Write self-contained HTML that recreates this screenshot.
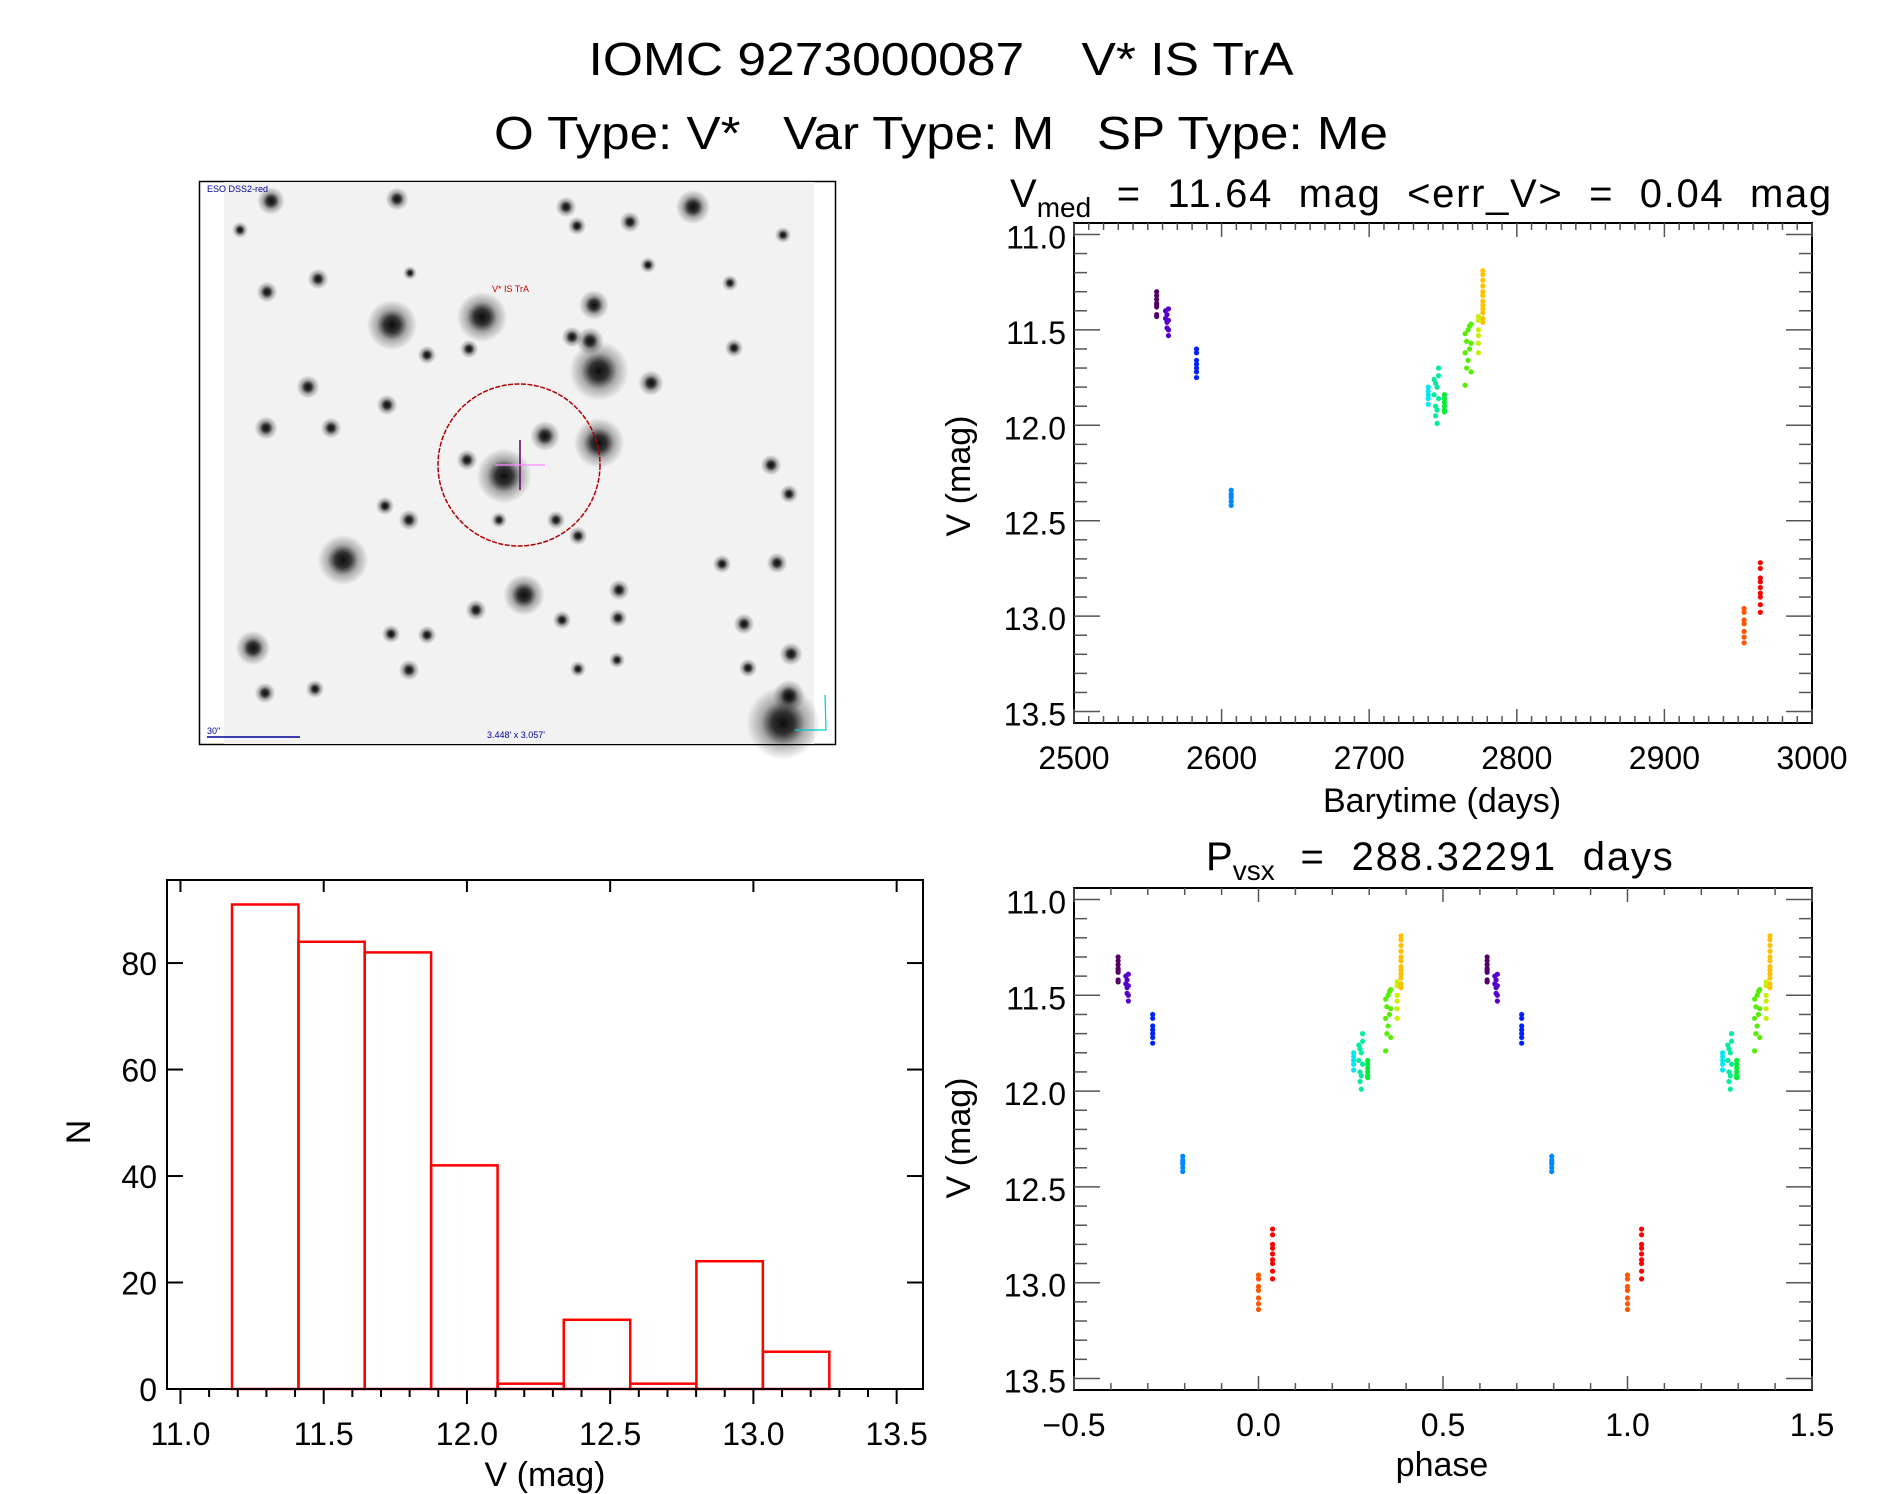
<!DOCTYPE html>
<html><head><meta charset="utf-8"><style>
html,body{margin:0;padding:0;background:#fff}
svg{display:block}
text{font-family:"Liberation Sans",sans-serif;fill:#000}
</style></head><body>
<svg id="fig" width="1889" height="1494" viewBox="0 0 1889 1494" xmlns="http://www.w3.org/2000/svg">
<defs>
<radialGradient id="star"><stop offset="0" stop-color="#000" stop-opacity="0.95"/><stop offset="0.3" stop-color="#000" stop-opacity="0.8"/><stop offset="0.6" stop-color="#000" stop-opacity="0.3"/><stop offset="1" stop-color="#000" stop-opacity="0"/></radialGradient>
</defs>
<text x="941" y="75" font-size="46" text-anchor="middle" textLength="705" lengthAdjust="spacingAndGlyphs" xml:space="preserve">IOMC 9273000087    V* IS TrA</text>
<text x="941" y="149" font-size="46" text-anchor="middle" textLength="894" lengthAdjust="spacingAndGlyphs" xml:space="preserve">O Type: V*   Var Type: M   SP Type: Me</text>
<g id="img">
<rect x="199.5" y="181.5" width="636" height="563" fill="#fff" stroke="#000" stroke-width="1.5"/>
<rect x="224" y="182" width="590" height="562" fill="#f2f2f2"/>
<g id="stars"></g>
<circle cx="519" cy="465" r="81" fill="none" stroke="#b00000" stroke-width="1.5" stroke-dasharray="5,1.5"/>
<line x1="520" y1="440" x2="520" y2="490" stroke="#660066" stroke-width="1.5"/>
<line x1="495" y1="465" x2="545" y2="465" stroke="#ff88ff" stroke-width="1.2"/>
<text x="492" y="292" font-size="9" style="fill:#cc0000">V* IS TrA</text>
<text x="207" y="192" font-size="9" style="fill:#000099">ESO DSS2-red</text>
<line x1="207" y1="737" x2="300" y2="737" stroke="#000099" stroke-width="1.5"/>
<text x="207" y="734" font-size="9" style="fill:#000099">30"</text>
<text x="487" y="738" font-size="9" style="fill:#000099">3.448' x 3.057'</text>
<path d="M825 695 L826 730 L795 730" fill="none" stroke="#00cccc" stroke-width="1.2"/>
</g>
<g id="lc"></g>
<g id="ph"></g>
<g id="hist"></g>
</svg>
<script>
const NS='http://www.w3.org/2000/svg';
// ---- data ----
const clusterColors=['#550066','#5500cc','#0022ff','#0088ff','#00e8f0','#00ee99','#00ee33','#55ee00','#c8f000','#ffc000','#ff5500','#ff0000'];
const obsTimes=[
2556,2556,2556,2556,2556,2556,2556,2556,
2562,2562,2563,2563,2563,2564,2564,2564,2564,
2583,2583,2583,2583,2583,2583,2583,
2606.5,2606.5,2606.5,2606.5,2606.5,2606.5,
2740,2740,2740,2740,2740,
2744,2744,2745,2745,2745,2746,2746,2746,2747,2747,2747,
2751,2751,2751,2751,2751,2751,
2765,2765,2765,2766,2766,2767,2767,2768,2768,2769,2769,2769,
2774,2774,2774,2774,2774,2774,
2777,2777,2777,2777,2777,2777,2777,2777,2777,2777,2777,2777,
2954,2954,2954,2954,2954,2954,2954,
2965,2965,2965,2965,2965,2965,2965,2965,2965];
const obsMags=[
11.30,11.32,11.34,11.36,11.37,11.38,11.42,11.43,
11.40,11.44,11.42,11.46,11.49,11.39,11.45,11.50,11.53,
11.60,11.62,11.66,11.68,11.70,11.72,11.75,
12.34,12.36,12.37,12.38,12.40,12.42,
11.80,11.82,11.84,11.86,11.89,
11.76,11.84,11.78,11.90,11.95,11.80,11.92,11.99,11.70,11.74,11.86,
11.84,11.86,11.88,11.90,11.92,11.93,
11.52,11.62,11.79,11.56,11.70,11.50,11.66,11.48,11.60,11.47,11.57,11.72,
11.43,11.45,11.50,11.53,11.57,11.62,
11.19,11.21,11.24,11.27,11.30,11.32,11.35,11.37,11.39,11.41,11.44,11.46,
12.96,12.98,13.02,13.04,13.08,13.11,13.14,
12.72,12.75,12.80,12.82,12.85,12.88,12.90,12.94,12.98];
const obsCluster=[
0,0,0,0,0,0,0,0,
1,1,1,1,1,1,1,1,1,
2,2,2,2,2,2,2,
3,3,3,3,3,3,
4,4,4,4,4,
5,5,5,5,5,5,5,5,5,5,5,
6,6,6,6,6,6,
7,7,7,7,7,7,7,7,7,7,7,7,
8,8,8,8,8,8,
9,9,9,9,9,9,9,9,9,9,9,9,
10,10,10,10,10,10,10,
11,11,11,11,11,11,11,11,11];
const period=288.32291;
const epoch=2954;
const histEdges=[11.18,11.412,11.643,11.875,12.107,12.338,12.57,12.801,13.033,13.265];
const histCounts=[91,84,82,42,1,13,1,24,7];
const lcXTicks=['2500','2600','2700','2800','2900','3000'];
const magTicks=['11.0','11.5','12.0','12.5','13.0','13.5'];
const phTicks=['\u22120.5','0.0','0.5','1.0','1.5'];
const histXTicks=['11.0','11.5','12.0','12.5','13.0','13.5'];
const histYTicks=['0','20','40','60','80'];
const stars=[[392,325,22],[482,317,22],[594,305,13],[599,371,26],[590,341,12],[599,443,22],[504,476,24],[545,436,13],[343,560,22],[524,595,18],[783,723,32],[789,696,14],[693,207,15],[253,648,15],[791,654,10],[651,383,11],[577,226,8],
[271,201,12],[397,199,10],[566,207,9],[630,222,9],[267,292,9],[318,279,9],[308,387,10],[266,428,10],[331,428,9],[387,405,9],[427,355,8],[469,349,8],[572,337,9],[734,348,8],[730,283,7],[789,494,8],[771,465,9],[385,506,8],[409,520,9],[467,460,9],[556,520,8],[578,536,8],[499,520,7],[619,590,9],[618,618,8],[562,620,8],[476,610,9],[391,634,8],[427,635,8],[744,624,9],[777,563,9],[578,669,7],[617,660,7],[409,670,9],[265,693,9],[315,689,8],[748,668,8],[722,564,8],[783,235,7],[240,230,7],[410,273,6],[648,265,7]];
// ---- helpers ----
function mk(tag,attrs,parent){const e=document.createElementNS(NS,tag);for(const k in attrs)e.setAttribute(k,attrs[k]);parent.appendChild(e);return e;}
const sg=document.getElementById('stars');
stars.forEach(s=>{const c=mk('circle',{cx:s[0],cy:s[1],r:s[2]*1.15,fill:'url(#star)'},sg);

});

function axesFrame(g,L,T,R,B){const r=mk('rect',{x:L,y:T,width:R-L,height:B-T,fill:'none',stroke:'#000','stroke-width':2},g);

}
function txt(g,x,y,s,size,anchor,name){const t=mk('text',{x:x,y:y,'font-size':size,'text-anchor':anchor},g);t.textContent=s;

return t;}

const Y0=10.94,Y1=13.56;
function magPlot(g,L,T,R,B,xmin,xmax,xMajor,xMinorN,xTickLabels,drawPts){
  const sx=v=>L+(v-xmin)/(xmax-xmin)*(R-L);
  const sy=v=>T+(v-Y0)/(Y1-Y0)*(B-T);
  axesFrame(g,L,T,R,B);
  const tk=mk('g',{stroke:'#555','stroke-width':1.5},g);
  
  
  for(let i=0;i<xTickLabels.length;i++){
    const v=xmin+i*xMajor;
    for(let j=0;j<xMinorN;j++){const vv=v+j*xMajor/xMinorN;if(vv>xmax+1e-9)break;const x=sx(vv);const len=j==0?14:7;
      mk('line',{x1:x,y1:B,x2:x,y2:B-len},tk);mk('line',{x1:x,y1:T,x2:x,y2:T+len},tk);}
    txt(g,sx(v),B+46,xTickLabels[i],32,'middle','x-tick-label');
  }
  for(let i=0;i<magTicks.length;i++){
    const v=11+i*0.5;
    for(let j=0;j<5;j++){const vv=v+j*0.1;if(vv>Y1)break;const y=sy(vv);const len=j==0?26:13;
      mk('line',{x1:L,y1:y,x2:L+len,y2:y},tk);mk('line',{x1:R,y1:y,x2:R-len,y2:y},tk);}
    txt(g,L-8,sy(v)+14,magTicks[i],32,'end','y-tick-label');
  }
  const pts=mk('g',{},g);
  
  
  drawPts(pts,sx,sy);
  return {sx,sy};
}
const lc=document.getElementById('lc');
magPlot(lc,1074,223,1812,723,2500,3000,100,10,lcXTicks,(pg,sx,sy)=>{
  for(let i=0;i<obsTimes.length;i++){const c=mk('circle',{cx:sx(obsTimes[i]),cy:sy(obsMags[i]),r:2.6,fill:clusterColors[obsCluster[i]]},pg);
    
    }
});
const lt=mk('text',{x:1010,y:207,'font-size':40},lc);


lt.innerHTML='V<tspan font-size="28" dy="10">med</tspan><tspan dy="-10" textLength="740" lengthAdjust="spacing" xml:space="preserve">  =  11.64  mag  &lt;err_V&gt;  =  0.04  mag</tspan>';
txt(lc,1442,812,'Barytime (days)',34,'middle','x-axis-title');
const ly=txt(lc,0,0,'V (mag)',34,'middle','y-axis-title');ly.setAttribute('transform','translate(970,476) rotate(-90)');
const ph=document.getElementById('ph');
magPlot(ph,1074,888,1812,1390,-0.5,1.5,0.5,5,phTicks,(pg,sx,sy)=>{
  for(let i=0;i<obsTimes.length;i++){
    let p=(obsTimes[i]-epoch)/period; p=p-Math.floor(p);
    [p-1,p,p+1].forEach(q=>{if(q<-0.5||q>1.5)return;
      const c=mk('circle',{cx:sx(q),cy:sy(obsMags[i]),r:2.6,fill:clusterColors[obsCluster[i]]},pg);
      
      });
  }
});
const pt=mk('text',{x:1206,y:870,'font-size':40},ph);


pt.innerHTML='P<tspan font-size="28" dy="10">vsx</tspan><tspan dy="-10" textLength="398" lengthAdjust="spacing" xml:space="preserve">  =  288.32291  days</tspan>';
txt(ph,1442,1476,'phase',34,'middle','x-axis-title');
const py=txt(ph,0,0,'V (mag)',34,'middle','y-axis-title');py.setAttribute('transform','translate(970,1138) rotate(-90)');
const hg=document.getElementById('hist');
(function(){
  const L=167,T=880,R=923,B=1389,xmin=10.953,xmax=13.592,ymax=95.6;
  const sx=v=>L+(v-xmin)/(xmax-xmin)*(R-L);
  const sy=v=>B-v/ymax*(B-T);
  const bars=mk('g',{fill:'none',stroke:'#ff0000','stroke-width':2.5},hg);
  
  
  for(let i=0;i<histCounts.length;i++){const x0=sx(histEdges[i]),x1=sx(histEdges[i+1]),y=sy(histCounts[i]);
    const r=mk('rect',{x:x0,y:y,width:x1-x0,height:B-y},bars);
    
    }
  axesFrame(hg,L,T,R,B);
  const tk=mk('g',{stroke:'#000','stroke-width':2},hg);
  
  
  for(let i=0;i<histXTicks.length;i++){const v=11+i*0.5;
    for(let j=0;j<5;j++){const vv=v+j*0.1;if(vv>xmax)break;const x=sx(vv);
      mk('line',{x1:x,y1:B,x2:x,y2:B+(j==0?15:8)},tk);
      if(j==0)mk('line',{x1:x,y1:T,x2:x,y2:T+12},tk);}
    txt(hg,sx(v),B+56,histXTicks[i],32,'middle','x-tick-label');}
  for(let i=0;i<histYTicks.length;i++){const v=i*20,y=sy(v);
    mk('line',{x1:L,y1:y,x2:L+16,y2:y},tk);mk('line',{x1:R,y1:y,x2:R-16,y2:y},tk);
    txt(hg,157,y+12,histYTicks[i],32,'end','y-tick-label');}
  txt(hg,545,1486,'V (mag)',34,'middle','x-axis-title');
  const n=txt(hg,0,0,'N',34,'middle','y-axis-title');n.setAttribute('transform','translate(90,1132) rotate(-90)');
})();
</script>
</body></html>
